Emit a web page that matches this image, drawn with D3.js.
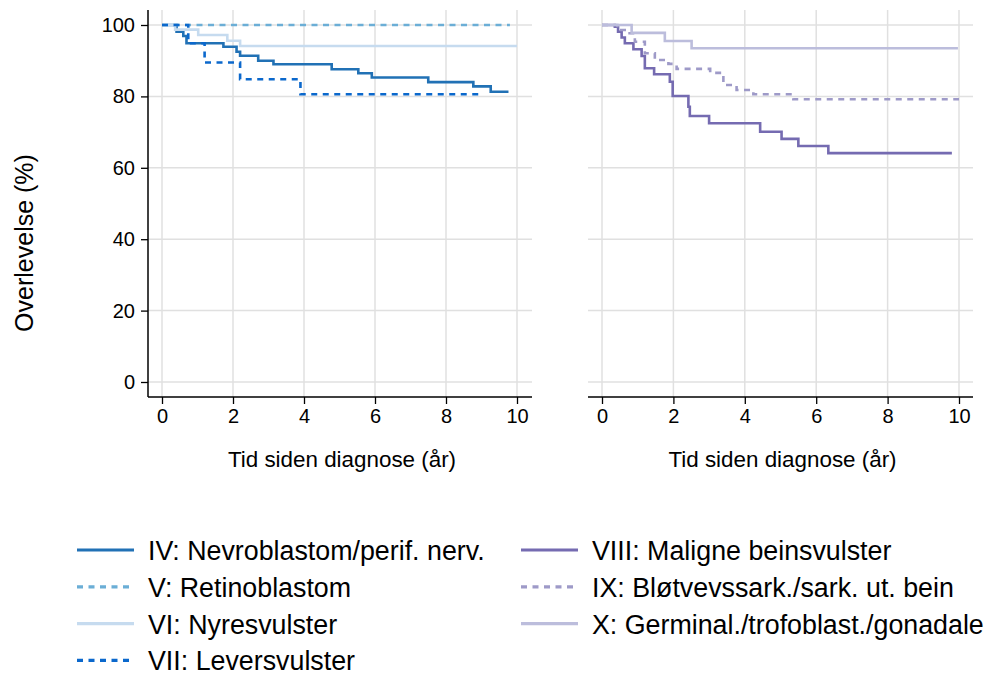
<!DOCTYPE html>
<html>
<head>
<meta charset="utf-8">
<script src="https://cdn.jsdelivr.net/npm/d3@7"></script>
<style>
  body { margin: 0; background: #fff; }
  text { font-family: "Liberation Sans", Arial, sans-serif; fill: #000; }
</style>
</head>
<body>
<div id="chart"></div>
<script>
// --------------------------------------------------
// Kaplan-Meier curves, two panels

var xTicks = [0, 2, 4, 6, 8, 10];
var yTicks = [0, 20, 40, 60, 80, 100];

// left panel
var ivTime = [0, 0.41, 0.6, 0.69, 1.73, 2.1, 2.2, 2.71, 3.14, 4.78, 5.53, 5.91, 7.5, 8.77, 9.26, 9.76];
var ivSurv = [100, 98.1, 96.9, 94.9, 93.9, 92.5, 91.4, 90.0, 89.0, 87.6, 86.5, 85.3, 84.0, 82.8, 81.3, 81.3];
var vTime = [0, 9.8];
var vSurv = [100, 100];
var viTime = [0, 0.37, 1.02, 1.84, 2.2, 10.0];
var viSurv = [100, 98.7, 97.2, 95.6, 94.1, 94.1];
var viiTime = [0, 0.74, 1.2, 2.2, 3.9, 8.96];
var viiSurv = [100, 94.9, 89.5, 84.8, 80.6, 80.6];

// right panel
var viiiTime = [0, 0.36, 0.45, 0.55, 0.64, 0.88, 1.11, 1.2, 1.46, 1.9, 1.98, 2.42, 2.46, 3.0, 4.43, 5.03, 5.5, 6.34, 9.8];
var viiiSurv = [100, 99.5, 98.1, 96.5, 94.9, 93.2, 91.3, 87.9, 86.2, 84.1, 80.1, 77.1, 74.5, 72.5, 70.1, 68.1, 66.1, 64.1, 64.1];
var ixTime = [0, 0.43, 0.68, 0.92, 1.2, 1.48, 1.86, 2.09, 3.03, 3.4, 3.77, 4.24, 5.36, 10.0];
var ixSurv = [100, 98.6, 97.7, 95.3, 92.1, 90.2, 89.1, 87.7, 86.6, 83.2, 81.8, 80.6, 79.2, 79.2];
var xTime = [0, 0.83, 1.76, 2.51, 9.97];
var xSurv = [100, 97.8, 95.5, 93.5, 93.5];

var series = [
    { name: "IV: Nevroblastom/perif. nerv.", t: ivTime, s: ivSurv, color: "#2171b5", dash: null, panel: 0 },
    { name: "V: Retinoblastom", t: vTime, s: vSurv, color: "#6baed6", dash: "6,5.5", panel: 0 },
    { name: "VI: Nyresvulster", t: viTime, s: viSurv, color: "#c6dbef", dash: null, panel: 0 },
    { name: "VII: Leversvulster", t: viiTime, s: viiSurv, color: "#0b68cc", dash: "6,5.5", panel: 0 },
    { name: "VIII: Maligne beinsvulster", t: viiiTime, s: viiiSurv, color: "#756bb1", dash: null, panel: 1 },
    { name: "IX: Bløtvevssark./sark. ut. bein", t: ixTime, s: ixSurv, color: "#9e9ac8", dash: "6,5.5", panel: 1 },
    { name: "X: Germinal./trofoblast./gonadale", t: xTime, s: xSurv, color: "#bcbddc", dash: null, panel: 1 }
];

var svg = d3.select("#chart")
    .append("svg")
    .attr("width", 985)
    .attr("height", 677);

var y = d3.scaleLinear().domain([0, 100]).range([382, 25]);
var yTop = 10, yBottom = 397;

var panels = [
    { left: 148, right: 532, x0: 162, x1: 517, yAxis: true },
    { left: 588, right: 973, x0: 602, x1: 959, yAxis: false }
];

panels.forEach(function(p, i) {
    var x = d3.scaleLinear().domain([0, 10]).range([p.x0, p.x1]);
    var g = svg.append("g");

    // grid
    g.selectAll(".hgrid")
        .data(yTicks)
        .enter()
        .append("line")
        .attr("x1", p.left).attr("x2", p.right)
        .attr("y1", function(d) { return y(d); })
        .attr("y2", function(d) { return y(d); })
        .attr("stroke", "#e0e0e0")
        .attr("stroke-width", 1.5);
    g.selectAll(".vgrid")
        .data(xTicks)
        .enter()
        .append("line")
        .attr("y1", yTop).attr("y2", yBottom)
        .attr("x1", function(d) { return x(d); })
        .attr("x2", function(d) { return x(d); })
        .attr("stroke", "#e0e0e0")
        .attr("stroke-width", 1.5);

    // curves
    var line = d3.line()
        .x(function(d) { return x(d[0]); })
        .y(function(d) { return y(d[1]); })
        .curve(d3.curveStepAfter);

    series.filter(function(s) { return s.panel === i; }).forEach(function(s) {
        var pts = s.t.map(function(t, k) { return [t, s.s[k]]; });
        g.append("path")
            .attr("d", line(pts))
            .attr("fill", "none")
            .attr("stroke", s.color)
            .attr("stroke-width", 2.6)
            .attr("stroke-dasharray", s.dash);
    });

    // x axis
    var xAxisCall = d3.axisBottom(x)
        .tickValues(xTicks)
        .tickSize(7)
        .tickPadding(5)
        .tickSizeOuter(0);
    var xa = g.append("g")
        .attr("transform", "translate(0, " + yBottom + ")")
        .call(xAxisCall);
    xa.select(".domain").remove();
    xa.append("line")
        .attr("x1", p.left).attr("x2", p.right)
        .attr("stroke", "#000").attr("stroke-width", 1.5);
    xa.selectAll(".tick line").attr("stroke", "#000").attr("stroke-width", 1.3);
    xa.selectAll("text")
        .attr("font-size", "20px")
        .attr("font-family", "Liberation Sans, Arial, sans-serif");

    g.append("text")
        .attr("x", (p.left + p.right) / 2 + 2)
        .attr("y", 467)
        .attr("text-anchor", "middle")
        .attr("font-size", "22.4px")
        .text("Tid siden diagnose (år)");

    if (p.yAxis) {
        var yAxisCall = d3.axisLeft(y)
            .tickValues(yTicks)
            .tickSize(7)
            .tickPadding(6)
            .tickSizeOuter(0);
        var ya = g.append("g")
            .attr("transform", "translate(" + p.left + ", 0)")
            .call(yAxisCall);
        ya.select(".domain").remove();
        ya.append("line")
            .attr("y1", yTop).attr("y2", yBottom)
            .attr("stroke", "#000").attr("stroke-width", 1.5);
        ya.selectAll(".tick line").attr("stroke", "#000").attr("stroke-width", 1.3);
        ya.selectAll("text")
            .attr("font-size", "20px")
            .attr("font-family", "Liberation Sans, Arial, sans-serif");

        g.append("text")
            .attr("transform", "translate(33, 243) rotate(-90)")
            .attr("text-anchor", "middle")
            .attr("font-size", "25px")
            .text("Overlevelse (%)");
    }
});

// legend
var legend = svg.append("g");
var cols = [{ x: 77, items: series.slice(0, 4) }, { x: 521, items: series.slice(4) }];
cols.forEach(function(c) {
    c.items.forEach(function(s, k) {
        var yy = 550 + k * 36.8;
        legend.append("line")
            .attr("x1", c.x).attr("x2", c.x + 57)
            .attr("y1", yy).attr("y2", yy)
            .attr("stroke", s.color)
            .attr("stroke-width", 3.2)
            .attr("stroke-dasharray", s.dash);
        legend.append("text")
            .attr("x", c.x + 71)
            .attr("y", yy + 10)
            .attr("font-size", "26.8px")
            .text(s.name);
    });
});
</script>
</body>
</html>
